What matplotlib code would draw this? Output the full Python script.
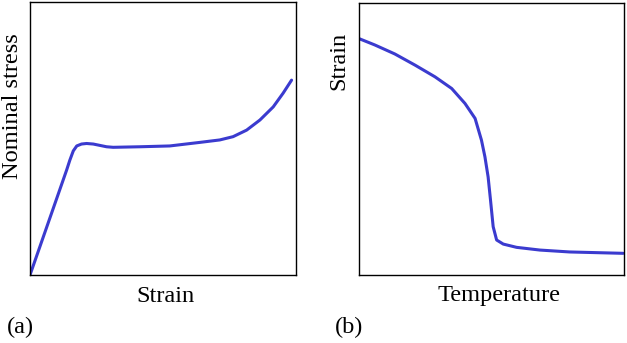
import numpy as np
import matplotlib
matplotlib.use("Agg")
import matplotlib.pyplot as plt

plt.rcParams['font.family'] = ['Liberation Serif', 'DejaVu Serif']

# (a) stress-strain curve (axes run 0..1)
strain_a = [0.0, 0.138, 0.150, 0.163, 0.176, 0.194, 0.213, 0.238, 0.263,
            0.288, 0.313, 0.414, 0.526, 0.639, 0.714, 0.764, 0.815, 0.865,
            0.915, 0.952, 0.984]
stress_a = [0.0, 0.385, 0.421, 0.455, 0.473, 0.480, 0.482, 0.480, 0.475,
            0.470, 0.468, 0.470, 0.473, 0.486, 0.495, 0.507, 0.531, 0.568,
            0.616, 0.666, 0.714]

# (b) strain-temperature curve
temp_b = [0.0, 0.061, 0.136, 0.212, 0.287, 0.350, 0.400, 0.438, 0.462,
          0.475, 0.487, 0.496, 0.506, 0.519, 0.544, 0.594, 0.682, 0.794, 0.995]
strain_b = [0.870, 0.846, 0.813, 0.772, 0.729, 0.686, 0.631, 0.576, 0.496,
            0.435, 0.361, 0.276, 0.178, 0.129, 0.114, 0.102, 0.092, 0.085, 0.080]

line_color = '#3b3bcf'
fs = 17.6

fig = plt.figure(figsize=(6.27, 3.43), dpi=100)
ax1 = fig.add_axes([0.0478, 0.198, 0.424, 0.796])
ax2 = fig.add_axes([0.572, 0.198, 0.424, 0.793])

ax1.plot(strain_a, stress_a, color=line_color, lw=2.2,
         solid_joinstyle='round', solid_capstyle='round')
ax2.plot(temp_b, strain_b, color=line_color, lw=2.2,
         solid_joinstyle='round', solid_capstyle='round')

for ax in (ax1, ax2):
    ax.set_xlim(0, 1)
    ax.set_ylim(0, 1)
    ax.set_xticks([])
    ax.set_yticks([])
    for s in ax.spines.values():
        s.set_linewidth(1.0)
        s.set_color('black')

fig.text(166 / 627, 1 - 296 / 343, 'Strain', ha='center', va='center', fontsize=fs)
fig.text(499 / 627, 1 - 296 / 343, 'Temperature', ha='center', va='center', fontsize=fs)
fig.text(13 / 627, 1 - 106 / 343, 'Nominal stress', ha='center', va='center',
         rotation=90, fontsize=fs)
fig.text(339 / 627, 1 - 61 / 343, 'Strain', ha='center', va='center',
         rotation=90, fontsize=fs)
fig.text(20 / 627, 1 - 327 / 343, '(a)', ha='center', va='center', fontsize=fs)
fig.text(349 / 627, 1 - 327 / 343, '(b)', ha='center', va='center', fontsize=fs)

fig.savefig('out.png', dpi=100)
